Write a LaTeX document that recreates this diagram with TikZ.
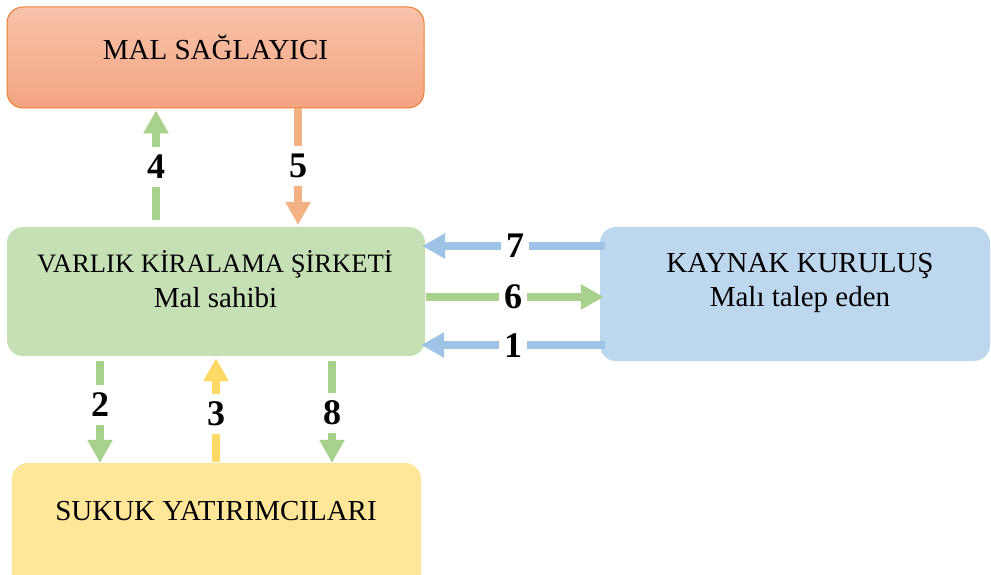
\documentclass[tikz,border=0pt]{standalone}
\usepackage{fontspec}
\setmainfont{Liberation Serif}
\usetikzlibrary{arrows.meta}
\definecolor{malTop}{HTML}{F8C2AA}
\definecolor{malBot}{HTML}{F4A581}
\definecolor{malLine}{HTML}{ED7D31}
\definecolor{vksFill}{HTML}{C5E0B4}
\definecolor{kayFill}{HTML}{BDD7EE}
\definecolor{sukFill}{HTML}{FFE699}
\definecolor{gArr}{HTML}{A9D18E}
\definecolor{bArr}{HTML}{9DC3E6}
\definecolor{oArr}{HTML}{F4B183}
\definecolor{yArr}{HTML}{FFD966}
\tikzset{
  boxnode/.style={rectangle, rounded corners=16pt, inner sep=0pt},
  boxtext/.style={font=\fontsize{29}{34}\selectfont, align=center, inner sep=0pt},
  flow/.style={line width=7.5pt, -{Triangle[width=24pt,length=23pt]}},
  numlab/.style={fill=white, inner xsep=5pt, inner ysep=8pt, text=black, font=\fontsize{36}{36}\selectfont\bfseries}
}
\begin{document}
\begin{tikzpicture}[x=1pt,y=-1pt]
\useasboundingbox (0,0) rectangle (991,575);
\clip (0,0) rectangle (991,575);

% boxes
\node[boxnode, draw=malLine, line width=1pt, top color=malTop, bottom color=malBot,
      minimum width=417pt, minimum height=101pt] (mal) at (215.5,57.5) {};
\node[boxtext] (maltxt) at (215.5,47) {MAL SAĞLAYICI};

\node[boxnode, fill=vksFill, minimum width=418pt, minimum height=129pt] (vks) at (216,291.5) {};
\node[boxtext, anchor=base] (vkstxt1) at (215,272) {\fontsize{26.6}{32}\selectfont VARLIK KİRALAMA ŞİRKETİ};
\node[boxtext, anchor=base] (vkstxt2) at (215.5,307) {Mal sahibi};

\node[boxnode, fill=kayFill, minimum width=390pt, minimum height=134pt] (kay) at (795,294) {};
\node[boxtext] (kaytxt) at (800,283) {KAYNAK KURULUŞ\\Malı talep eden};

\node[boxnode, fill=sukFill, minimum width=409pt, minimum height=140pt] (suk) at (216.5,533) {};
\node[boxtext] (suktxt) at (216,511) {SUKUK YATIRIMCILARI};

% x / y guides
\coordinate (x4) at (156,0);
\coordinate (x5) at (298,0);
\coordinate (x2) at (100,0);
\coordinate (x3) at (216,0);
\coordinate (x8) at (332,0);
\coordinate (y7) at (0,246);
\coordinate (y6) at (0,297);
\coordinate (y1) at (0,345);

% 4 : VKS -> MAL
\draw[flow, draw=gArr] ([yshift=7pt]vks.north -| x4) -- ([yshift=-2pt]mal.south -| x4);
\node[numlab] (n4) at (156,167) {4};
% 5 : MAL -> VKS
\draw[flow, draw=oArr] (mal.south -| x5) -- ([yshift=2pt]vks.north -| x5);
\node[numlab] (n5) at (298,166) {5};

% 7 : KAY -> VKS
\draw[flow, draw=bArr] ([xshift=5pt]kay.west |- y7) -- ([xshift=-3pt]vks.east |- y7);
\node[numlab] (n7) at (515,246) {7};
% 6 : VKS -> KAY
\draw[flow, draw=gArr] ([xshift=1pt]vks.east |- y6) -- ([xshift=4pt]kay.west |- y6);
\node[numlab] (n6) at (513,297) {6};
% 1 : KAY -> VKS
\draw[flow, draw=bArr] ([xshift=5pt]kay.west |- y1) -- ([xshift=-4pt]vks.east |- y1);
\node[numlab] (n1) at (513,346) {1};

% 2 : VKS -> SUK
\draw[flow, draw=gArr] ([yshift=-5pt]vks.south -| x2) -- (suk.north -| x2);
\node[numlab] (n2) at (100,405) {2};
% 3 : SUK -> VKS
\draw[flow, draw=yArr] ([yshift=1pt]suk.north -| x3) -- ([yshift=-2pt]vks.south -| x3);
\node[numlab] (n3) at (216,414) {3};
% 8 : VKS -> SUK
\draw[flow, draw=gArr] ([yshift=-5pt]vks.south -| x8) -- (suk.north -| x8);
\node[numlab] (n8) at (332,413) {8};
\end{tikzpicture}
\end{document}
